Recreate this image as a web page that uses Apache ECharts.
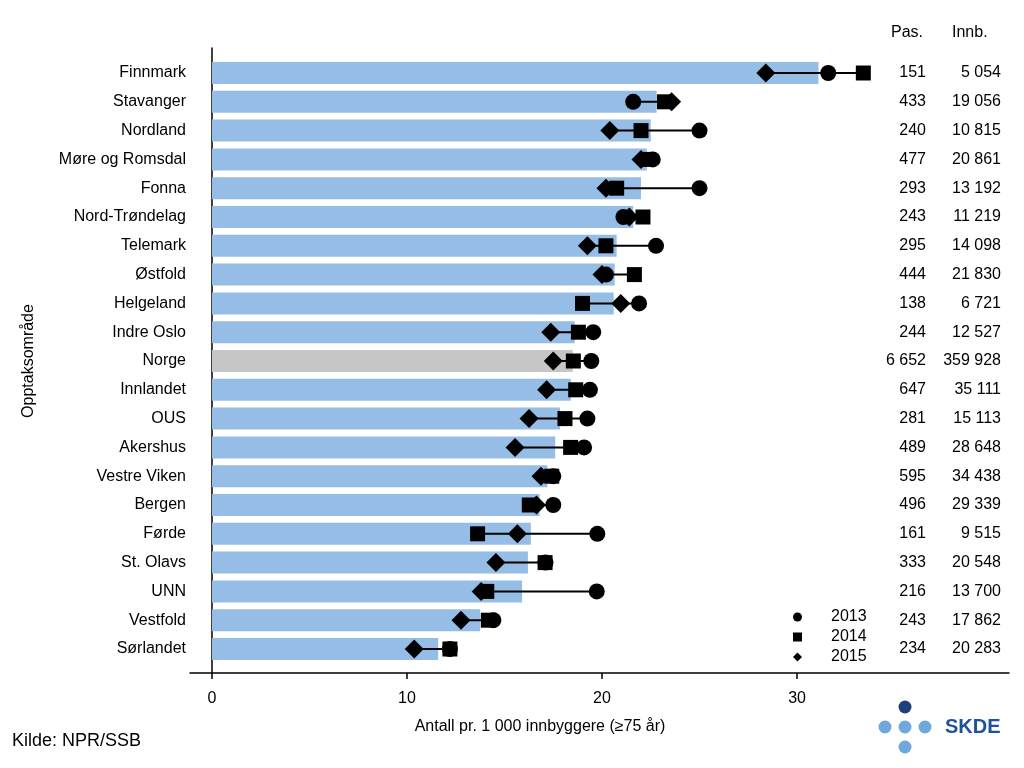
<!DOCTYPE html>
<html>
<head>
<meta charset="utf-8">
<script src="https://cdn.jsdelivr.net/npm/echarts@6/dist/echarts.min.js"></script>
<style>html,body{margin:0;padding:0;background:#fff}#c{width:1024px;height:768px}</style>
</head>
<body>
<div id="c"></div>
<script>
const categories = ['Finnmark','Stavanger','Nordland','Møre og Romsdal','Fonna','Nord-Trøndelag','Telemark','Østfold','Helgeland','Indre Oslo','Norge','Innlandet','OUS','Akershus','Vestre Viken','Bergen','Førde','St. Olavs','UNN','Vestfold','Sørlandet'];
const bars  = [31.1, 22.8, 22.5, 22.3, 22.0, 21.6, 20.75, 20.65, 20.6, 18.6, 18.5, 18.4, 17.85, 17.6, 17.2, 16.8, 16.35, 16.2, 15.9, 13.75, 11.6];
const y2013 = [31.6, 21.6, 25.0, 22.6, 25.0, 21.1, 22.77, 20.2, 21.9, 19.55, 19.45, 19.38, 19.25, 19.08, 17.5, 17.5, 19.76, 17.1, 19.73, 14.43, 12.2];
const y2014 = [33.4, 23.2, 22.0, 22.3, 20.75, 22.1, 20.2, 21.66, 19.0, 18.79, 18.53, 18.65, 18.1, 18.39, 17.42, 16.27, 13.62, 17.08, 14.09, 14.17, 12.2];
const y2015 = [28.4, 23.57, 20.4, 22.0, 20.2, 21.4, 19.25, 20.0, 20.96, 17.37, 17.5, 17.16, 16.26, 15.54, 16.87, 16.64, 15.66, 14.56, 13.8, 12.77, 10.37];
const pas   = [151, 433, 240, 477, 293, 243, 295, 444, 138, 244, 6652, 647, 281, 489, 595, 496, 161, 333, 216, 243, 234];
const innb  = [5054, 19056, 10815, 20861, 13192, 11219, 14098, 21830, 6721, 12527, 359928, 35111, 15113, 28648, 34438, 29339, 9515, 20548, 13700, 17862, 20283];
const xTicks = [0, 10, 20, 30];
const years = ['2013', '2014', '2015'];
const yearSymbols = ['circle', 'rect', 'diamond'];

const FONT = '"Liberation Sans", Arial, sans-serif';
const fmt = n => String(n).replace(/\B(?=(\d{3})+(?!\d))/g, ' ');
const XMIN = -1.128, XMAX = 40.87;

const barData = bars.map((v, i) => categories[i] === 'Norge'
  ? { value: v, itemStyle: { color: '#C6C6C6' } } : v);
const rangeData = categories.map((c, i) => {
  const a = [y2013[i], y2014[i], y2015[i]];
  return [Math.min(...a), Math.max(...a), i];
});

const chart = echarts.init(document.getElementById('c'));
chart.setOption({
  animation: false,
  textStyle: { fontFamily: FONT },
  grid: [
    { left: 190, right: 15, top: 48, bottom: 95, containLabel: false, outerBoundsMode: 'none' },
    { left: 190, right: 15, top: 58.6, height: 604.8, containLabel: false, outerBoundsMode: 'none' }
  ],
  xAxis: [
    { type: 'value', gridIndex: 0, min: XMIN, max: XMAX,
      axisLine: { show: true, onZero: true, lineStyle: { color: '#000', width: 1.5 } },
      axisTick: { show: true, customValues: xTicks, length: 6, lineStyle: { color: '#000', width: 1.5 } },
      axisLabel: { show: true, customValues: xTicks, fontSize: 16, color: '#000', margin: 18, fontFamily: FONT },
      splitLine: { show: false } },
    { type: 'value', gridIndex: 1, min: XMIN, max: XMAX, show: false }
  ],
  yAxis: [
    { type: 'value', gridIndex: 0, min: 0, max: 1,
      axisLine: { show: true, onZero: true, lineStyle: { color: '#000', width: 1.5 } },
      axisTick: { show: false }, axisLabel: { show: false }, splitLine: { show: false } },
    { type: 'category', gridIndex: 1, inverse: true, data: categories,
      axisLine: { show: false, onZero: false }, axisTick: { show: false },
      axisLabel: { fontSize: 16, color: '#000', margin: 4, fontFamily: FONT },
      name: 'Opptaksområde', nameLocation: 'middle', nameGap: 153,
      nameTextStyle: { fontSize: 16, color: '#000', fontFamily: FONT } },
    { type: 'category', gridIndex: 1, inverse: true, position: 'right', data: categories,
      axisLine: { show: false, onZero: false }, axisTick: { show: false },
      axisLabel: { inside: true, margin: 8,
        formatter: (v, i) => `{a|${fmt(pas[i])}}{b|${fmt(innb[i])}}`,
        rich: {
          a: { width: 60, align: 'right', fontSize: 16, color: '#000', fontFamily: FONT },
          b: { width: 75, align: 'right', fontSize: 16, color: '#000', fontFamily: FONT }
        } } }
  ],
  legend: {
    data: years.map((y, i) => ({ name: y, icon: yearSymbols[i] })),
    orient: 'vertical', left: 793, top: 607, padding: 0,
    itemWidth: 9, itemHeight: 9, itemGap: 0,
    formatter: '{t|{name}}',
    textStyle: { fontSize: 16, color: '#000', lineHeight: 20, fontFamily: FONT,
      rich: { t: { fontSize: 16, color: '#000', lineHeight: 20, padding: [0, 0, 0, 24], fontFamily: FONT } } }
  },
  series: [
    { type: 'bar', xAxisIndex: 1, yAxisIndex: 1, data: barData, barWidth: 22,
      itemStyle: { color: '#95BDE6' }, silent: true, z: 1 },
    { type: 'custom', xAxisIndex: 1, yAxisIndex: 1, data: rangeData, z: 2,
      encode: { x: [0, 1], y: 2 },
      renderItem: (params, api) => {
        const p1 = api.coord([api.value(0), api.value(2)]);
        const p2 = api.coord([api.value(1), api.value(2)]);
        return { type: 'line', shape: { x1: p1[0], y1: p1[1], x2: p2[0], y2: p2[1] },
                 style: { stroke: '#000', lineWidth: 2 } };
      } },
    { name: '2013', type: 'scatter', xAxisIndex: 1, yAxisIndex: 1, symbol: 'circle', symbolSize: 16,
      itemStyle: { color: '#000', opacity: 1 }, z: 3, data: y2013.map((v, i) => [v, categories[i]]) },
    { name: '2014', type: 'scatter', xAxisIndex: 1, yAxisIndex: 1, symbol: 'rect', symbolSize: 15,
      itemStyle: { color: '#000', opacity: 1 }, z: 4, data: y2014.map((v, i) => [v, categories[i]]) },
    { name: '2015', type: 'scatter', xAxisIndex: 1, yAxisIndex: 1, symbol: 'diamond', symbolSize: 19,
      itemStyle: { color: '#000', opacity: 1 }, z: 5, data: y2015.map((v, i) => [v, categories[i]]) }
  ],
  graphic: [
    { type: 'text', left: 891, top: 25, style: { text: 'Pas.', font: '16px ' + FONT, fill: '#000' } },
    { type: 'text', left: 952, top: 25, style: { text: 'Innb.', font: '16px ' + FONT, fill: '#000' } },
    { type: 'text', x: 540, y: 727, style: { text: 'Antall pr. 1 000 innbyggere (≥75 år)', font: '16px ' + FONT, fill: '#000', align: 'center', verticalAlign: 'middle' } },
    { type: 'text', x: 12, y: 741, style: { text: 'Kilde: NPR/SSB', font: '18px ' + FONT, fill: '#000', verticalAlign: 'middle' } },
    { type: 'circle', shape: { cx: 905, cy: 707, r: 6.5 }, style: { fill: '#1F3F78' } },
    { type: 'circle', shape: { cx: 885, cy: 727, r: 6.5 }, style: { fill: '#6FA8DC' } },
    { type: 'circle', shape: { cx: 905, cy: 727, r: 6.5 }, style: { fill: '#6FA8DC' } },
    { type: 'circle', shape: { cx: 925, cy: 727, r: 6.5 }, style: { fill: '#6FA8DC' } },
    { type: 'circle', shape: { cx: 905, cy: 747, r: 6.5 }, style: { fill: '#6FA8DC' } },
    { type: 'text', x: 945, y: 727, style: { text: 'SKDE', font: 'bold 20px ' + FONT, fill: '#1F5296', verticalAlign: 'middle' } }
  ]
});
</script>
</body>
</html>
